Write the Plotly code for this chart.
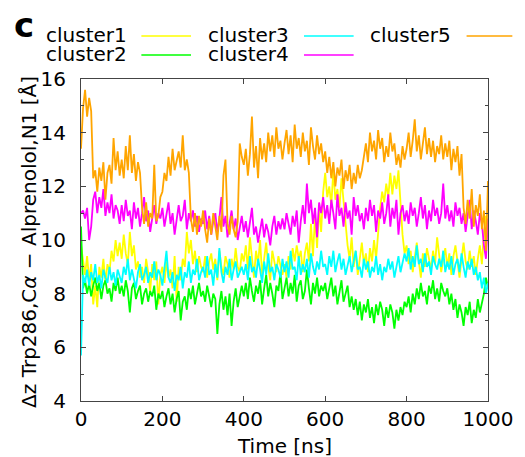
import plotly.graph_objects as go

# Time axis: one sample every 5 ns, 0..1000 ns
time_ns = list(range(0, 1001, 5))

cluster1 = [
    9.8, 9.2, 8.7, 9.4, 8.5, 9.1, 7.6, 8.3, 7.5, 9.0, 8.6, 9.3, 8.4, 9.1, 8.8, 9.6, 9.2, 10.0, 9.4, 9.9,
    9.3, 10.2, 9.5, 9.1, 10.3, 9.4, 9.8, 8.9, 9.2, 8.6, 9.0, 8.4, 9.3, 8.8, 8.1, 9.1, 8.5, 9.2, 7.6, 8.7,
    9.0, 8.4, 9.2, 8.6, 8.9, 8.2, 9.4, 7.7, 9.0, 8.5, 9.3, 9.0, 10.3, 9.5, 10.0, 9.1, 9.6, 8.8, 9.4, 9.0,
    8.8, 9.4, 8.6, 9.2, 9.5, 8.9, 9.3, 8.5, 9.6, 9.0, 8.7, 9.4, 9.1, 8.6, 9.3, 8.9, 9.7, 9.0, 8.8, 9.5,
    9.2, 9.8, 8.9, 10.1, 9.4, 8.6, 9.6, 9.1, 10.0, 8.7, 9.3, 9.9, 9.0, 8.5, 9.6, 9.2, 8.8, 9.4, 9.0, 8.7,
    9.1, 8.6, 9.4, 8.9, 9.7, 9.2, 9.8, 9.3, 9.6, 8.8, 9.5, 9.9, 9.2, 10.6, 9.4, 10.9, 9.7, 11.2, 10.3, 11.8,
    12.5, 11.6, 12.0, 11.3, 12.6, 11.5, 11.9, 11.2, 12.3, 11.4, 10.6, 9.8, 9.3, 10.1, 9.0, 9.6, 8.7, 9.4, 9.9, 9.1,
    9.5, 8.8, 9.7, 9.2, 10.0, 9.3, 10.4, 11.2, 11.8, 11.4, 12.1, 11.6, 12.5, 11.7, 12.4, 11.9, 12.6, 11.3, 10.2, 9.5,
    9.8, 9.1, 9.6, 8.8, 9.4, 9.9, 9.2, 8.6, 9.5, 9.0, 9.7, 9.3, 8.9, 9.6, 9.1, 10.1, 9.4, 8.8, 9.3, 9.7,
    9.0, 9.5, 8.7, 9.4, 9.8, 9.1, 8.6, 9.3, 9.9, 9.2, 8.9, 9.6, 9.0, 9.4, 8.7, 9.3, 9.8, 9.1, 10.3, 10.9,
    10.4,
]

cluster2 = [
    10.5, 8.2, 8.5, 8.0, 8.4, 7.9, 8.3, 8.6, 8.1, 8.4, 7.8, 8.3, 8.5, 8.0, 8.2, 7.7, 8.4, 8.1, 8.6, 8.0,
    8.3, 7.9, 8.5, 8.1, 7.3, 8.2, 8.4, 7.8, 8.1, 8.3, 7.6, 8.0, 8.2, 7.7, 8.1, 7.9, 8.3, 7.4, 8.0, 7.8,
    8.1, 7.5, 7.9, 8.2, 7.6, 8.0, 7.3, 7.8, 8.1, 7.0, 7.7, 7.9, 7.4, 8.2, 7.8, 8.3, 7.6, 8.0, 8.4, 7.9,
    8.1, 7.7, 8.3, 7.9, 7.5, 8.0, 7.8, 6.5, 7.6, 8.1, 7.4, 7.9, 7.2, 8.0, 6.8, 7.7, 8.2, 7.5, 7.9, 8.3,
    7.9, 8.4, 7.8, 8.6, 8.1, 7.7, 8.3, 8.0, 8.5, 7.6, 8.2, 8.7, 7.9, 8.4, 8.0, 7.5, 8.3, 8.1, 8.8, 7.8,
    8.2, 8.6, 7.9, 8.4, 8.0, 8.7, 7.7, 8.3, 8.5, 7.8, 8.1, 8.9, 8.2, 7.6, 8.4, 8.0, 8.6, 7.9, 8.3, 8.1,
    8.4, 7.8, 8.2, 8.6, 7.9, 8.3, 7.6, 8.1, 8.5, 7.7, 8.0, 8.3, 7.5, 7.9, 7.4, 7.8, 7.2, 7.7, 7.0, 7.6,
    7.3, 7.8, 7.1, 7.5, 6.9, 7.6, 7.2, 7.7, 7.4, 6.8, 7.5, 7.1, 7.6, 7.3, 6.7, 7.4, 7.0, 7.5, 7.2, 7.7,
    7.5, 7.9, 7.3, 8.0, 7.6, 8.2, 7.8, 8.4, 7.9, 8.1, 7.6, 8.3, 8.0, 8.5, 7.8, 8.2, 7.7, 8.4, 8.1, 7.9,
    8.2, 7.6, 8.0, 7.4, 7.8, 7.1, 7.6, 7.3, 6.8, 7.5, 7.2, 7.7, 6.9, 7.4, 7.1, 7.8, 7.3, 7.6, 8.0, 8.6,
    8.2,
]

cluster3 = [
    5.7, 8.7, 8.4, 8.9, 8.3, 8.8, 8.5, 9.1, 8.4, 8.7, 8.2, 8.9, 8.6, 8.4, 9.0, 8.5, 8.8, 8.3, 8.9, 8.6,
    8.4, 9.0, 8.7, 9.3, 8.5, 8.9, 8.6, 8.2, 8.8, 9.1, 8.5, 8.7, 9.0, 8.4, 8.8, 8.6, 9.2, 8.5, 8.9, 8.7,
    8.3, 8.9, 9.6, 8.6, 8.4, 8.8, 8.1, 8.7, 8.5, 9.0, 8.2, 8.8, 8.6, 9.2, 8.4, 8.9, 8.7, 9.3, 8.5, 8.8,
    9.0, 8.6, 9.4, 8.7, 8.9, 8.3, 9.1, 8.6, 9.7, 8.8, 8.4, 9.0, 8.7, 9.3, 8.5, 8.9, 9.2, 8.6, 8.8, 9.0,
    8.7, 9.1, 8.5, 9.4, 8.8, 9.0, 8.6, 9.3, 8.9, 8.4, 9.2, 8.7, 9.5, 8.8, 9.0, 8.5, 9.1, 8.9, 8.6, 9.3,
    8.8, 9.2, 8.6, 9.6, 8.9, 9.0, 8.5, 9.4, 8.7, 9.1, 8.8, 9.3, 8.6, 9.5, 9.0, 8.7, 9.2, 8.9, 9.6, 9.0,
    9.1, 8.7, 9.4, 9.0, 9.6, 8.8, 9.2, 9.5, 8.9, 9.3, 8.7, 9.1, 9.4, 8.8, 9.2, 9.6, 8.9, 9.0, 8.6, 9.3,
    8.9, 9.2, 8.6, 9.0, 8.8, 9.4, 8.7, 9.1, 8.5, 9.0, 8.8, 9.3, 8.9, 9.2, 8.6, 9.0, 9.4, 8.8, 9.1, 9.5,
    9.2, 9.7, 8.9, 9.4, 9.0, 9.8, 9.1, 9.3, 8.8, 9.5, 9.0, 9.2, 8.7, 9.4, 9.1, 8.9, 9.3, 9.0, 9.6, 8.8,
    9.2, 8.9, 9.4, 8.7, 9.1, 9.3, 8.8, 9.5, 9.0, 8.6, 9.2, 8.9, 9.3, 8.7, 9.0, 8.5, 8.8, 8.2, 8.6, 8.0,
    8.4,
]

cluster4 = [
    11.0, 11.1, 10.8, 11.2, 10.0, 10.5, 11.5, 11.8, 11.0, 11.6, 11.2, 11.9, 10.9, 11.4, 11.0, 11.7, 10.8, 11.3, 11.1, 10.6,
    11.3, 10.7, 11.5, 10.9, 11.1, 10.4, 11.4, 10.8, 11.2, 10.5, 11.0, 11.6, 10.7, 11.1, 10.3, 10.9, 11.3, 10.6, 11.0, 10.8,
    11.2, 10.5, 10.9, 11.4, 10.6, 11.0, 10.2, 10.8, 11.3, 10.7, 10.9, 11.5, 10.4, 11.0, 10.7, 11.1, 10.5, 10.9, 10.3, 10.8,
    10.6, 11.1, 10.4, 10.9, 10.2, 10.7, 11.0, 10.3, 10.8, 11.6, 10.5, 10.9, 10.1, 10.6, 11.1, 10.4, 10.8, 10.0, 10.5, 10.9,
    10.3, 10.7, 10.1, 10.6, 11.2, 10.2, 10.5, 9.9, 10.4, 10.8, 10.1, 10.6, 10.3, 9.8, 10.5, 10.9, 10.2, 10.7, 10.4, 10.8,
    10.4, 11.0, 10.6, 10.2, 10.9, 10.5, 11.1, 9.9, 10.7, 11.3, 10.6, 12.1, 11.0, 11.5, 10.6, 11.2, 10.1, 11.4, 11.0, 11.6,
    10.8, 11.3, 10.6, 11.5, 11.0, 10.4, 11.7, 10.9, 11.2, 10.5, 11.4, 10.8, 11.1, 10.2, 11.6, 10.9, 11.3, 10.7, 11.0, 10.4,
    11.2, 10.7, 11.5, 10.9, 11.3, 10.3, 11.1, 10.8, 11.4, 10.6, 11.0, 11.7, 10.5, 11.2, 10.8, 11.5, 10.2, 11.0, 11.3, 10.7,
    11.1, 10.6, 11.4, 10.9, 11.2, 10.5, 11.0, 11.6, 10.8, 11.3, 10.4, 11.1, 10.7, 11.5, 10.9, 11.2, 10.6, 11.0, 12.1, 10.8,
    11.3, 10.7, 11.1, 10.5, 11.4, 10.9, 11.2, 10.6, 11.0, 10.3, 10.9, 11.5, 10.4, 11.1, 10.7, 10.2, 11.0, 10.6, 9.8, 9.3,
    10.8,
]

cluster5 = [
    13.4, 14.9, 15.6, 14.6, 15.3, 14.8, 12.3, 12.6, 11.8, 12.7, 12.2, 12.9, 11.5, 12.5, 12.8, 12.1, 13.8, 12.6, 13.3, 12.4,
    13.0, 12.3, 13.5, 12.6, 13.9, 12.5, 13.2, 12.2, 12.9, 12.5, 11.2, 10.6, 11.4, 10.5, 11.0, 10.8, 12.8, 10.7, 10.9, 11.6,
    11.8, 12.5, 12.2, 13.1, 12.4, 13.4, 12.6, 12.9, 13.3, 12.7, 13.9, 12.6, 13.0, 12.5, 10.8, 10.3, 11.0, 10.2, 10.9, 10.5,
    11.1, 10.4, 9.9, 10.8, 10.2, 11.0, 10.5, 10.0, 10.9, 10.3, 12.4, 13.0, 10.6, 10.2, 10.9, 10.4, 10.1, 10.7, 13.6, 13.1,
    12.8, 13.4, 12.4, 13.2, 14.6, 12.7, 13.5, 12.3, 13.8, 13.0, 13.6, 12.9, 14.0, 13.3, 13.9, 13.1, 14.2, 13.4, 13.7, 13.0,
    13.6, 14.1, 13.2, 13.9, 12.9, 14.3, 13.4, 13.8, 13.1, 14.0, 13.3, 13.7, 12.8, 14.2, 13.5, 13.0, 13.9, 13.2, 13.6, 12.9,
    13.3, 12.5, 13.1, 12.3, 12.9, 12.0, 12.7, 12.4, 13.0, 11.9, 12.6, 12.2, 12.8, 11.9, 12.5, 12.1, 12.8, 12.3, 12.6, 13.2,
    13.6, 12.9, 14.0, 13.3, 13.7, 13.0, 14.1, 13.4, 13.8, 12.9, 13.5, 13.1, 14.0, 13.3, 13.6, 12.8, 13.2, 12.7, 13.5, 13.0,
    13.4, 14.0, 13.1, 13.7, 14.5, 13.3, 13.9, 13.0, 13.6, 14.2, 13.2, 13.8, 13.1, 13.7, 12.9, 13.5, 13.2, 13.9, 13.0, 13.6,
    13.1, 13.7, 12.6, 13.4, 12.9, 13.5, 12.4, 13.2, 11.2, 10.6, 11.5, 10.8, 11.9, 10.5, 11.3, 10.9, 11.7, 10.4, 11.1, 9.6,
    12.2,
]

series_names = ["cluster1", "cluster2", "cluster3", "cluster4", "cluster5"]
series_values = [cluster1, cluster2, cluster3, cluster4, cluster5]
series_colors = ["#ffff00", "#00ff00", "#00ffff", "#ff00ff", "#ffa500"]

x_ticks = [0, 200, 400, 600, 800, 1000]
y_ticks = [4, 6, 8, 10, 12, 14, 16]

FONT = "DejaVu Sans, Liberation Sans, sans-serif"
AXIS_COLOR = "#444444"
FS = 20

fig = go.Figure()
for name, vals, col in zip(series_names, series_values, series_colors):
    fig.add_trace(go.Scatter(x=time_ns, y=vals, mode="lines", name=name,
                             line=dict(color=col, width=1.8), showlegend=False))

W, H = 525, 457
# Plot area geometry in window pixels
L, R, T, B = 81, 499, 79, 401
def px(xp):
    return (xp - L) / (R - L)
def py(yp):
    return (B - yp) / (B - T)

# gnuplot-style key: text followed by line sample
key_layout = [  # (name index, right edge of text, line start, line end, row y)
    (0, 130, 143, 194, 36),
    (2, 297, 310, 361, 36),
    (4, 463, 477, 524, 36),
    (1, 130, 143, 194, 55),
    (3, 297, 310, 361, 55),
]
annotations = []
shapes = []
for idx, tx, l0, l1, ry in key_layout:
    annotations.append(dict(text=series_names[idx], xref="paper", yref="paper",
                            x=px(tx), y=py(ry - 1), xanchor="right", yanchor="middle",
                            height=18, valign="middle",
                            showarrow=False, font=dict(family=FONT, size=FS, color="black")))
    shapes.append(dict(type="line", xref="paper", yref="paper",
                       x0=px(l0), x1=px(l1), y0=py(ry), y1=py(ry),
                       line=dict(color=series_colors[idx], width=1.5)))

# panel label
annotations.append(dict(text="<b>c</b>", xref="paper", yref="paper", x=px(22), y=py(25),
                        xanchor="center", yanchor="middle", showarrow=False,
                        font=dict(family=FONT, size=34, color="black")))
# axis titles
annotations.append(dict(text="Time [ns]", xref="paper", yref="paper", x=px(290), y=py(446),
                        xanchor="center", yanchor="middle", showarrow=False,
                        font=dict(family=FONT, size=FS, color="black")))
annotations.append(dict(text="Δz Trp286,C<i>α</i> − Alprenolol,N1 [Å]", xref="paper", yref="paper",
                        x=px(27.5), y=py(242), xanchor="center", yanchor="middle", textangle=-90,
                        showarrow=False, font=dict(family=FONT, size=FS, color="black")))

fig.update_layout(
    autosize=True,
    margin=dict(l=L, r=W - R, t=T, b=H - B, pad=0),
    paper_bgcolor="white", plot_bgcolor="white",
    font=dict(family=FONT, size=FS, color="black"),
    annotations=annotations, shapes=shapes,
    showlegend=False,
)
fig.update_xaxes(range=[0, 1000], tickvals=x_ticks, ticks="inside", ticklen=5, tickcolor=AXIS_COLOR,
                 showline=True, linecolor=AXIS_COLOR, linewidth=1, mirror="ticks",
                 showgrid=False, zeroline=False, tickfont=dict(size=FS, family=FONT),
                 ticklabelstandoff=0)
fig.update_yaxes(range=[4, 16], tickvals=y_ticks, ticks="inside", ticklen=5, tickcolor=AXIS_COLOR,
                 showline=True, linecolor=AXIS_COLOR, linewidth=1, mirror="ticks",
                 showgrid=False, zeroline=False, tickfont=dict(size=FS, family=FONT),
                 minor=dict(dtick=1, ticks="inside", ticklen=3, tickcolor=AXIS_COLOR),
                 ticklabelstandoff=10)

# The 525x457 figure div is pinned to the window's top-left corner so that the
# browser's default body margin does not push it out of the window.
fig.write_html("out.html", config={"displayModeBar": False},
               default_width=f"{W}px; position:absolute; left:0; top:0",
               default_height=f"{H}px")
